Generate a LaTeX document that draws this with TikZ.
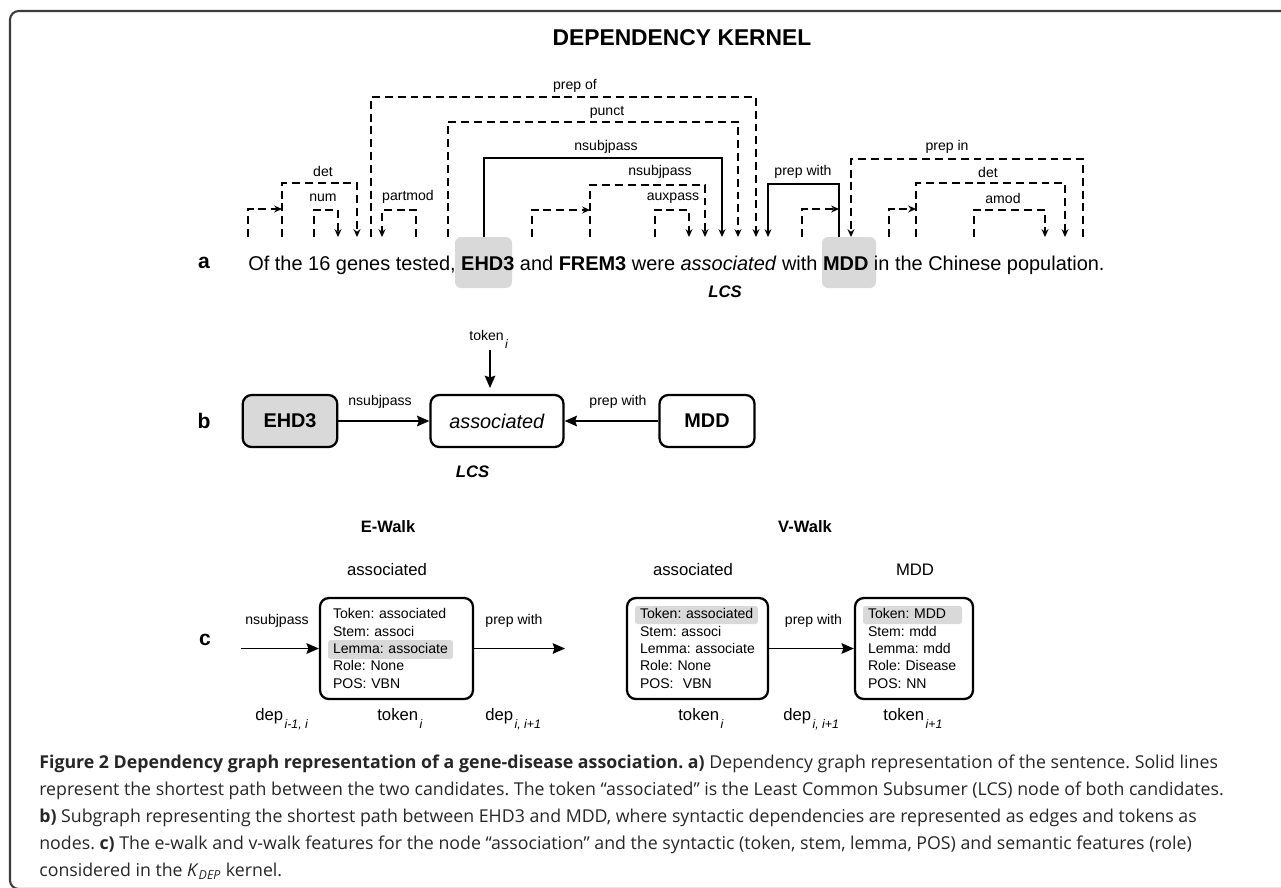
\documentclass[tikz,border=0pt]{standalone}
\usepackage{fontspec}
\setmainfont{Liberation Sans}
\newfontfamily\capfont{Open Sans}
\usetikzlibrary{arrows.meta}
\definecolor{hlgray}{HTML}{D9D9D9}
\definecolor{framegray}{HTML}{3C3C3C}
\newcommand{\lowsub}[1]{\hspace{0.8pt}\raisebox{-5pt}{\fontsize{7}{8}\selectfont\itshape #1}}
\frenchspacing
\hyphenpenalty=10000
\hbadness=10000

\begin{document}
\begin{tikzpicture}[x=0.02cm, y=-0.02cm,
        dep/.style = {line width=1.1pt, dash pattern=on 4.5pt off 2.8pt,
                      -{Stealth[length=4.5pt,width=4pt,inset=1.5pt]}},
        shortp/.style = {line width=1.1pt, -{Stealth[length=4.5pt,width=4pt,inset=1.5pt]}},
        flow/.style = {line width=1.1pt, -{Stealth[length=7pt,width=6pt,inset=1pt]}},
        lbl/.style = {inner sep=0, font=\fontsize{8}{9.6}\selectfont},
        part/.style = {inner sep=0, font=\fontsize{12}{14}\selectfont\bfseries},
        hl/.style = {fill=hlgray, rounded corners=3.5pt, inner sep=0},
        bbox/.style = {draw, line width=1.3pt, rounded corners=5pt, minimum height=1.04cm,
                       inner sep=0, font=\fontsize{11.3}{13}\selectfont},
        fbox/.style = {draw, line width=1.3pt, rounded corners=5pt, minimum height=2.02cm,
                       inner xsep=0.26cm, inner ysep=0, align=left,
                       font=\fontsize{8}{9.92}\selectfont},
        wlbl/.style = {inner sep=0, font=\fontsize{9.5}{11}\selectfont},
        capt/.style = {inner sep=0, align=left, text=black!85,
                       font=\capfont\fontsize{10.1}{15.3}\selectfont}]
    \useasboundingbox (0,0) rectangle (1281,887);
    % frame
    \draw[framegray, line width=1.2pt, rounded corners=5pt] (1300,11) -- (10,11) -- (10,889) -- (1300,889);
    \node[inner sep=0, font=\fontsize{13}{15}\selectfont\bfseries] (title) at (682,38) {DEPENDENCY KERNEL};

    % a: sentence with its dependencies
    \node[part] (pa) at (204,263) {a};
    \node[hl, minimum width=1.14cm, minimum height=1.02cm] (ehdbg) at (483.5,262.5) {};
    \node[hl, minimum width=1.08cm, minimum height=1.02cm] (mddbg) at (849,262.5) {};
    \node[inner sep=0, anchor=base west, font=\fontsize{11.35}{13}\selectfont] (sent) at (248,270)
        {Of the 16 genes tested, \textbf{EHD3} and \textbf{FREM3} were \textit{associated} with \textbf{MDD} in the Chinese population.};
    \node[inner sep=0, font=\fontsize{9.5}{11}\selectfont\bfseries\itshape] (lcsa) at (725,292) {LCS};

    \foreach \n/\x in {of/248, the/282, num16/314, genesA/338, genesB/357, genesC/371, genesD/382,
                       tested/416, comma/448, ehd/484, and/532, frem/590, were/655,
                       asA/689, asB/705, asC/722, asD/738, asE/756, asF/768,
                       with/802, mdd/839, mddB/851, in/889, the2/916, chinese/974,
                       popA/1045, popB/1065, popC/1083}
        \coordinate (\n) at (\x,237);

    \foreach \a/\b/\y in {the/genesB/183, num16/genesA/210, tested/genesD/210, genesC/asE/97,
                          comma/asD/122, frem/asB/185, were/asA/210, popC/mddB/159,
                          the2/popB/183, chinese/popA/210}
        \draw[dep] (\a) -- (\a |- 0,\y) -| (\b);
    \foreach \a/\b/\y in {of/the/209, and/frem/210, with/mdd/209, in/the2/209}
        \draw[dep] (\a) |- (\b |- 0,\y);
    \draw[shortp] (ehd) -- (ehd |- 0,158) -| (asC);
    \draw[shortp] (mdd) -- (mdd |- 0,184) -| (asF);

    \foreach \x/\y/\t [count=\i] in {323/171/det, 323/198/num, 408/197/partmod, 575/86/prep of,
                                     607/112/punct, 606/147/nsubjpass, 660/172/nsubjpass,
                                     673/198/auxpass, 803/172/prep with, 947/147/prep in,
                                     988/172/det, 1003/198/amod}
        \node[lbl] (dl\i) at (\x,\y) {\t};

    % b: shortest path subgraph
    \node[part] (pb) at (204,421) {b};
    \node[bbox, fill=hlgray, minimum width=1.89cm] (ehdb) at (290,421) {\textbf{EHD3}};
    \node[bbox, minimum width=2.66cm] (assocb) at (497,421) {\textit{associated}};
    \node[bbox, minimum width=1.9cm] (mddb) at (707,421) {\textbf{MDD}};
    \draw[flow] (ehdb) -- (assocb);
    \draw[flow] (mddb) -- (assocb);
    \node[lbl] (nsb) at (380,402) {nsubjpass};
    \node[lbl] (pwb) at (618,402) {prep with};
    \node[lbl, anchor=base west] (tokb) at (469,340) {token\lowsub{i}};
    \coordinate (tokarr) at (490,350);
    \draw[flow] (tokarr) -- (tokarr |- 0,388);
    \node[inner sep=0, font=\fontsize{9.5}{11}\selectfont\bfseries\itshape] (lcsb) at (472.5,472) {LCS};

    % c: e-walk and v-walk
    \node[inner sep=0, font=\fontsize{9.4}{11}\selectfont\bfseries] (ewalk) at (388,527) {E-Walk};
    \node[inner sep=0, font=\fontsize{9.4}{11}\selectfont\bfseries] (vwalk) at (805,527) {V-Walk};
    \node[part] (pc) at (205,640) {c};
    \node[wlbl] (ewlab) at (387,570) {associated};
    \node[wlbl] (valab) at (693,570) {associated};
    \node[wlbl] (vmlab) at (915,570) {MDD};

    \node[hl, rounded corners=1.5pt, minimum width=2.5cm, minimum height=0.38cm] (hllem) at (390.5,649.5) {};
    \node[hl, rounded corners=1.5pt, minimum width=2.46cm, minimum height=0.36cm] (hltoka) at (696.5,615) {};
    \node[hl, rounded corners=1.5pt, minimum width=1.98cm, minimum height=0.36cm] (hltokm) at (912.5,615) {};
    \node[fbox, text width=2.54cm] (ewbox) at (396.5,648.5)
        {Token: associated\\Stem: associ\\Lemma: associate\\Role: None\\POS: VBN};
    \node[fbox, text width=2.30cm] (vabox) at (697.5,648.5)
        {Token: associated\\Stem: associ\\Lemma: associate\\Role: None\\POS: \ VBN};
    \node[fbox, text width=1.84cm] (vmbox) at (914,648.5)
        {Token: MDD\\Stem: mdd\\Lemma: mdd\\Role: Disease\\POS: NN};

    \coordinate (ein) at (241,648.5);
    \coordinate (eout) at (565,648.5);
    \draw[flow] (ein) -- (ewbox);
    \draw[flow] (ewbox) -- (eout);
    \draw[flow] (vabox) -- (vmbox);
    \node[lbl] (nsc) at (277,621) {nsubjpass};
    \node[lbl] (pwc) at (514,621) {prep with};
    \node[lbl] (pwv) at (813.5,621) {prep with};

    \node[wlbl, anchor=base west] (dep1) at (255,720) {dep\lowsub{i-1, i}};
    \node[wlbl, anchor=base west] (tok1) at (377,720) {token\lowsub{i}};
    \node[wlbl, anchor=base west] (dep2) at (485,720) {dep\lowsub{i, i+1}};
    \node[wlbl, anchor=base west] (tok2) at (678,720) {token\lowsub{i}};
    \node[wlbl, anchor=base west] (dep3) at (783,720) {dep\lowsub{i, i+1}};
    \node[wlbl, anchor=base west] (tok3) at (883,720) {token\lowsub{i+1}};

    % caption
    \node[capt, anchor=north west] (caption) at (39,755)
        {\textbf{Figure 2 Dependency graph representation of a gene-disease association. a)} Dependency graph representation of the sentence. Solid lines\\
         represent the shortest path between the two candidates. The token “associated” is the Least Common Subsumer (LCS) node of both candidates.\\
         \textbf{b)} Subgraph representing the shortest path between EHD3 and MDD, where syntactic dependencies are represented as edges and tokens as\\
         nodes. \textbf{c)} The e-walk and v-walk features for the node “association” and the syntactic (token, stem, lemma, POS) and semantic features (role)\\
         considered in the \textit{K}\textsubscript{\textit{DEP}} kernel.};
\end{tikzpicture}
\end{document}
